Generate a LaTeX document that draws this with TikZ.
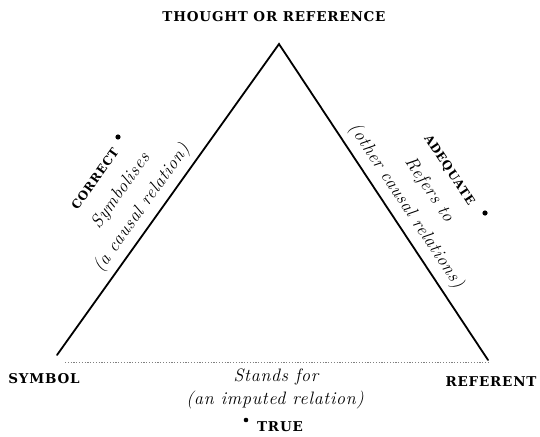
\documentclass[tikz,border=0pt]{standalone}
\usepackage{fontspec}
\newfontfamily\capfont[LetterSpace=6]{DejaVu Serif}
\newfontfamily\itfont[LetterSpace=4]{Latin Modern Roman}
\begin{document}
\begin{tikzpicture}[x=1pt,y=-1pt,
  caps/.style={font=\capfont\fontsize{13.5}{15}\selectfont\bfseries, inner sep=0pt},
  sidecaps/.style={font=\capfont\fontsize{12}{14}\selectfont\bfseries, inner sep=0pt},
  ital/.style={font=\itfont\fontsize{18}{20}\selectfont\itshape, inner sep=0pt},
  mark dot/.style={fill=black, draw=none},
  edge/.style={line width=1.8pt, line cap=round, line join=miter}]
\useasboundingbox (0,0) rectangle (540,436);
\coordinate (A) at (279,44);
\coordinate (S) at (57,355);
\coordinate (R) at (488,360);
\coordinate (D0) at (65,362);
\coordinate (D1) at (488,362);
\draw[edge] (S) -- (A) -- (R);
\draw[gray, line width=1pt, dash pattern=on 1.2pt off 1.6pt] (D0) -- (D1);

\node[caps] (thought) at (274,17) {THOUGHT OR REFERENCE};
\node[caps] (symbol) at (44,379) {SYMBOL};
\node[caps] (referent) at (491,382) {REFERENT};

\node[ital] (stands) at (276,377) {Stands for};
\node[ital] (imputed) at (275,400) {(an imputed relation)};
\node[caps] (true) at (280,427) {TRUE};
\fill[mark dot] (246,420) circle (2.3pt);

\node[ital, rotate=54.5] (causal) at (142,208) {(a causal relation)};
\node[ital, rotate=54.5] (symbolises) at (121,191) {Symbolises};
\node[sidecaps, rotate=54.5] (correct) at (95,179) {CORRECT};
\fill[mark dot] (118,137) circle (2.6pt);

\node[ital, rotate=-56.5] (other) at (406,206) {(other causal relations)};
\node[ital, rotate=-56.5] (refers) at (429,190) {Refers to};
\node[sidecaps, rotate=-56.5] (adequate) at (449,170) {ADEQUATE};
\fill[mark dot] (485,213) circle (2.6pt);
\end{tikzpicture}
\end{document}
